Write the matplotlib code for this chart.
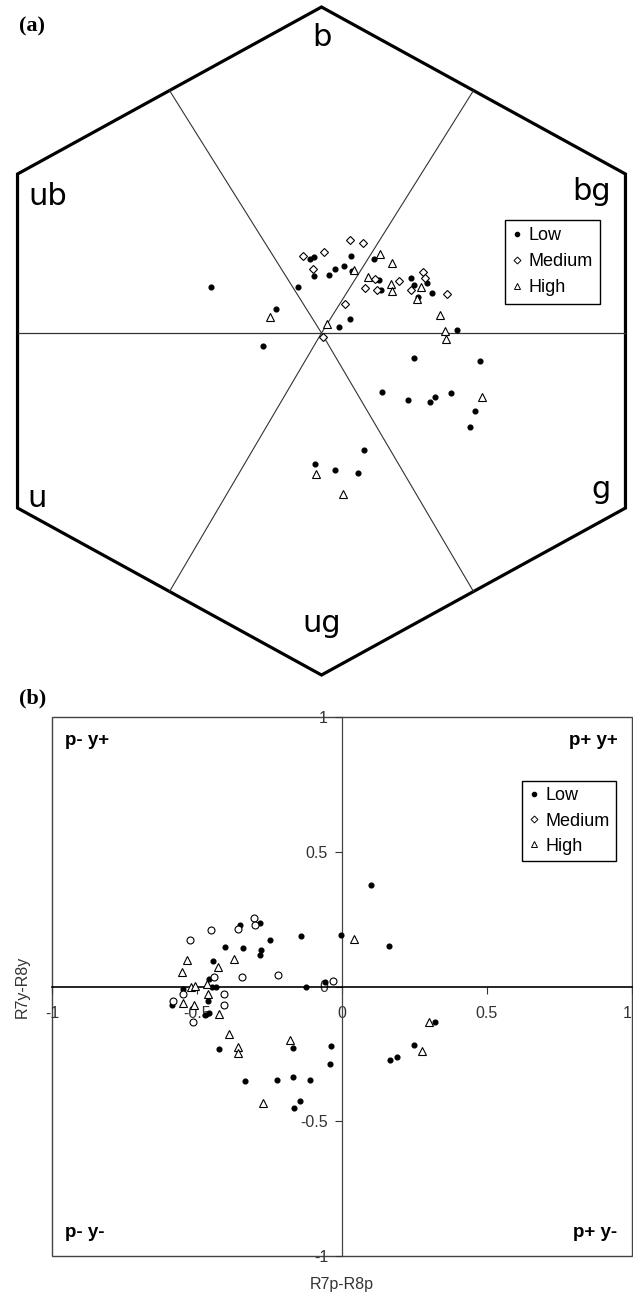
import numpy as np
import matplotlib.pyplot as plt
from matplotlib.lines import Line2D
from matplotlib.patches import Polygon, Rectangle

plt.rcParams['font.family'] = ['Liberation Sans', 'DejaVu Sans']

# (a) colour hexagon, hexagon units (vertex radius 1)
low_a_x = [-0.315, -0.068, -0.130, -0.168, -0.032, -0.021, -0.022, 0.039, 0.063, 0.022,
           0.085, 0.086, 0.149, 0.050, 0.082, 0.164, 0.170, 0.256, 0.264, 0.300,
           0.316, 0.276, 0.386, 0.263, 0.452, 0.173, 0.246, 0.309, 0.323, 0.369,
           0.436, 0.424, 0.122, -0.019, 0.038, 0.104]
low_a_y = [0.138, 0.138, 0.073, -0.039, 0.222, 0.228, 0.170, 0.191, 0.201, 0.173,
           0.231, 0.187, 0.222, 0.019, 0.042, 0.160, 0.129, 0.166, 0.143, 0.149,
           0.120, 0.109, 0.010, -0.076, -0.083, -0.176, -0.202, -0.208, -0.193, -0.180,
           -0.233, -0.280, -0.351, -0.393, -0.411, -0.418]
med_a_x = [-0.052, 0.007, 0.082, 0.119, -0.025, 0.152, 0.125, 0.157, 0.221, 0.254,
           0.288, 0.295, 0.357, 0.067, 0.005]
med_a_y = [0.231, 0.243, 0.278, 0.270, 0.191, 0.161, 0.136, 0.129, 0.157, 0.129,
           0.183, 0.165, 0.117, 0.087, -0.011]
high_a_x = [-0.147, 0.015, 0.093, 0.168, 0.202, 0.132, 0.198, 0.202, 0.283, 0.272,
            0.338, 0.352, 0.355, 0.456, -0.017, 0.062]
high_a_y = [0.047, 0.027, 0.189, 0.237, 0.210, 0.169, 0.146, 0.125, 0.139, 0.102,
            0.053, 0.007, -0.018, -0.193, -0.421, -0.481]

hex_labels = ['b', 'bg', 'g', 'ug', 'u', 'ub']

# (b) R7p-R8p vs R7y-R8y
low_b_x = [0.101, -0.003, 0.163, -0.141, -0.250, -0.284, -0.353, -0.405, -0.341, -0.281,
           -0.284, -0.444, -0.459, -0.447, -0.433, -0.123, -0.057, -0.550, -0.462, -0.585,
           -0.457, -0.471, -0.424, -0.169, -0.038, -0.041, -0.333, -0.224, -0.169, -0.110,
           -0.145, -0.166, 0.164, 0.190, 0.247, 0.321]
low_b_y = [0.376, 0.191, 0.151, 0.186, 0.173, 0.237, 0.227, 0.147, 0.144, 0.136,
           0.116, 0.095, 0.028, 0.000, -0.002, -0.002, 0.016, -0.010, -0.055, -0.068,
           -0.099, -0.107, -0.231, -0.230, -0.221, -0.288, -0.350, -0.346, -0.336, -0.347,
           -0.424, -0.450, -0.271, -0.263, -0.218, -0.131]
med_b_x = [-0.524, -0.451, -0.358, -0.304, -0.301, -0.219, -0.344, -0.440, -0.030, -0.550,
           -0.407, -0.584, -0.407, -0.515]
med_b_y = [0.173, 0.210, 0.212, 0.253, 0.228, 0.042, 0.035, 0.036, 0.020, -0.027,
           -0.026, -0.053, -0.070, -0.132]
high_b_x = [-0.534, -0.552, -0.426, -0.372, -0.520, -0.508, -0.464, -0.463, -0.547, -0.510,
            -0.423, -0.388, -0.358, -0.357, -0.179, -0.271, 0.040, 0.300, 0.276]
high_b_y = [0.099, 0.055, 0.074, 0.103, -0.001, 0.001, 0.010, -0.027, -0.062, -0.068,
            -0.102, -0.177, -0.224, -0.246, -0.200, -0.432, 0.175, -0.132, -0.241]

ticks_b = [-1, -0.5, 0, 0.5, 1]
tick_labels_b = ['-1', '-0.5', '0', '0.5', '1']
quadrants = ['p- y+', 'p+ y+', 'p- y-', 'p+ y-']
groups = ['Low', 'Medium', 'High']

low_style = dict(marker='o', ms=3.4, color='black', ls='none')
high_style = dict(marker='^', ms=6, mfc='white', mec='black', mew=0.8, ls='none')

fig = plt.figure(figsize=(6.33, 12.92), dpi=100)

# ---------------- (a) hexagon ----------------
W, H = 633.0, 1292.0
sx, sy = 351.0, 334.0        # pixels per hexagon unit
cx, cy = 321.5, 333.0        # pixel position of the centre
top_h = 690.0
ax1 = fig.add_axes([0, 1 - top_h / H, 1, top_h / H])
ax1.set_xlim(-cx / sx, (W - cx) / sx)
ax1.set_ylim(-(top_h - cy) / sy, cy / sy)
ax1.axis('off')

hc = -0.024
ang = np.deg2rad([90, 30, -30, -90, -150, 150])
vx = np.cos(ang)
vy = np.sin(ang) + hc
ax1.add_patch(Polygon(np.c_[vx, vy], closed=True, fill=False, ec='black', lw=2.3,
                      joinstyle='miter', clip_on=False))
ax1.plot([vx[4], vx[1]], [0, 0], color='#333333', lw=0.9)
for i in (5, 0):
    mx, my = (vx[i] + vx[(i + 1) % 6]) / 2, (vy[i] + vy[(i + 1) % 6]) / 2
    j = (i + 3) % 6
    ox, oy = (vx[j] + vx[(j + 1) % 6]) / 2, (vy[j] + vy[(j + 1) % 6]) / 2
    ax1.plot([mx, 0, ox], [my, 0, oy], color='#333333', lw=0.8)

lab_x = [0.0, 0.768, 0.796, 0.0, -0.811, -0.779]
lab_y = [0.860, 0.397, -0.494, -0.895, -0.521, 0.383]
for t, x, y in zip(hex_labels, lab_x, lab_y):
    ax1.text(x, y, t, ha='center', va='baseline', fontsize=22, family='DejaVu Sans')

ax1.plot(low_a_x, low_a_y, **low_style, zorder=3)
ax1.plot(med_a_x, med_a_y, marker='D', ms=4.2, mfc='white', mec='black', mew=0.8,
         ls='none', zorder=3)
ax1.plot(high_a_x, high_a_y, **high_style, zorder=3)

h_a = [Line2D([], [], marker='o', ms=3, color='black', ls='none'),
       Line2D([], [], marker='D', ms=3.5, mfc='white', mec='black', mew=0.7, ls='none'),
       Line2D([], [], marker='^', ms=4.5, mfc='white', mec='black', mew=0.7, ls='none')]
leg = ax1.legend(h_a, groups, loc='upper left', bbox_to_anchor=(504.6 / W, 1 - 220 / top_h),
                 borderaxespad=0, fontsize=13, handlelength=0.6, handletextpad=0.35,
                 borderpad=0.4, labelspacing=0.5, fancybox=False, framealpha=1,
                 edgecolor='black')
leg.get_frame().set_linewidth(1.0)

fig.text(19 / W, 1 - 26 / H, '(a)', fontsize=16, fontweight='bold',
         family='Liberation Serif', va='center')

# ---------------- (b) quadrant plot ----------------
ax2 = fig.add_axes([52 / W, 36 / H, 580 / W, 539 / H])
ax2.set_xlim(-1, 1)
ax2.set_ylim(-1, 1)
for s in ('top', 'right'):
    ax2.spines[s].set_visible(False)
ax2.spines['left'].set_position(('data', 0))
ax2.spines['bottom'].set_position(('data', 0))
ax2.spines['left'].set_color('#444444')
ax2.spines['left'].set_linewidth(0.9)
ax2.spines['bottom'].set_color('black')
ax2.spines['bottom'].set_linewidth(1.2)
ax2.add_patch(Rectangle((0, 0), 1, 1, transform=ax2.transAxes, fill=False,
                        ec='#444444', lw=1.0, clip_on=False))
ax2.set_xticks(ticks_b)
ax2.set_xticklabels(tick_labels_b)
ax2.set_yticks(ticks_b)
ax2.set_yticklabels(tick_labels_b)
ax2.tick_params(axis='x', length=5, width=0.8, pad=9, labelsize=11.5,
                labelcolor='#333333', color='#333333')
ax2.tick_params(axis='y', length=5, width=0.8, pad=5, labelsize=11.5,
                labelcolor='#333333', color='#333333')
# keep the last x label inside the figure edge
ax2.get_xticklabels()[-1].set_horizontalalignment('right')

ax2.plot(low_b_x, low_b_y, **low_style, zorder=3)
ax2.plot(med_b_x, med_b_y, marker='o', ms=5, mfc='white', mec='black', mew=0.8,
         ls='none', zorder=3)
ax2.plot(high_b_x, high_b_y, **high_style, zorder=3)

q_pos = [(0.023, 0.957, 'left'), (0.975, 0.957, 'right'),
         (0.023, 0.043, 'left'), (0.975, 0.043, 'right')]
for t, (x, y, ha) in zip(quadrants, q_pos):
    ax2.text(x, y, t, transform=ax2.transAxes, ha=ha, va='center', fontsize=13.5,
             fontweight='bold')

ax2.text(0.5, -0.052, 'R7p-R8p', transform=ax2.transAxes, ha='center', va='center',
         fontsize=11.5, color='#333333')
ax2.text(-0.052, 0.5, 'R7y-R8y', transform=ax2.transAxes, ha='center', va='center',
         rotation=90, fontsize=11.5, color='#333333')

h_b = [Line2D([], [], marker='o', ms=3, color='black', ls='none'),
       Line2D([], [], marker='D', ms=3.5, mfc='white', mec='black', mew=0.7, ls='none'),
       Line2D([], [], marker='^', ms=4.5, mfc='white', mec='black', mew=0.7, ls='none')]
leg2 = ax2.legend(h_b, groups, loc='upper left', bbox_to_anchor=(0.810, 0.881),
                  borderaxespad=0, fontsize=13, handlelength=0.6, handletextpad=0.35,
                  borderpad=0.35, labelspacing=0.45, fancybox=False, framealpha=1,
                  edgecolor='black')
leg2.get_frame().set_linewidth(1.0)

fig.text(19 / W, 1 - 698 / H, '(b)', fontsize=16, fontweight='bold',
         family='Liberation Serif', va='center')

fig.savefig('out.png', dpi=100)
